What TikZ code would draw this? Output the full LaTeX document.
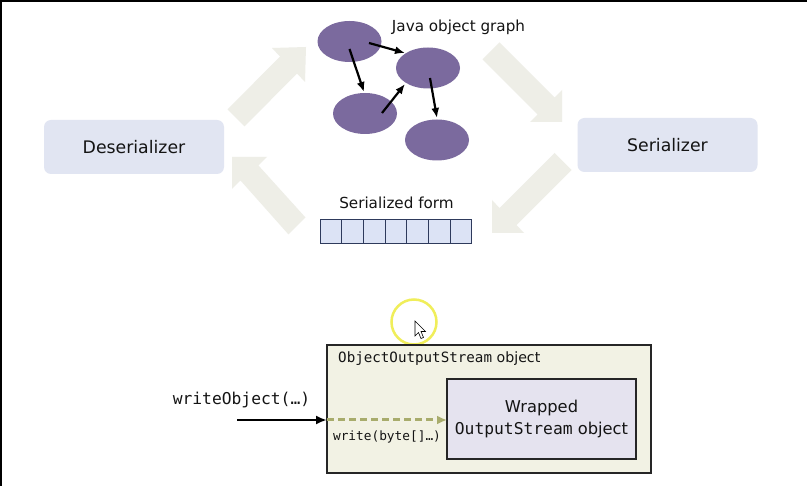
\documentclass[tikz,border=0pt]{standalone}
\usepackage{fontspec}
\setmainfont{DejaVu Sans}
\setsansfont{DejaVu Sans}
\setmonofont{DejaVu Sans Mono}
\usetikzlibrary{arrows.meta,calc,shapes.geometric}
\definecolor{boxfill}{RGB}{225,229,242}
\definecolor{purp}{RGB}{123,106,158}
\definecolor{bigarrow}{RGB}{238,238,231}
\definecolor{cellfill}{RGB}{220,227,245}
\definecolor{celldraw}{RGB}{46,58,92}
\definecolor{oosfill}{RGB}{242,242,228}
\definecolor{wrapfill}{RGB}{229,227,239}
\definecolor{olivegreen}{RGB}{168,172,108}
\definecolor{hilite}{RGB}{240,238,90}
\definecolor{ink}{RGB}{20,20,20}
\tikzset{
  rolebox/.style={fill=boxfill, rounded corners=7pt, minimum width=180pt, minimum height=54pt,
    text=ink, font=\fontsize{17.3}{20}\selectfont, inner sep=0pt, outer sep=0pt},
  objnode/.style={ellipse, fill=purp, minimum width=64pt, minimum height=41pt, inner sep=0pt},
  objarrow/.style={line width=2.2pt, -{Latex[length=10pt,width=8pt]}},
  bigarr/.style={fill=bigarrow, draw=none},
  cellbox/.style={draw=celldraw, fill=cellfill, line width=1pt, minimum width=21.7pt,
    minimum height=24pt, inner sep=0pt, outer sep=0pt},
  oosbox/.style={draw=black!85, fill=oosfill, line width=1.5pt, inner sep=0pt, outer sep=0pt},
  wrapbox/.style={draw=black!85, fill=wrapfill, line width=1.5pt, inner sep=0pt, outer sep=0pt,
    align=center, text=ink, font=\fontsize{16.3}{22}\selectfont},
  plainlabel/.style={text=ink, inner sep=0pt},
}
\begin{document}
\begin{tikzpicture}[x=1pt,y=-1pt]
\useasboundingbox (0,0) rectangle (807,486);
\fill[white] (0,0) rectangle (807,486);
% screenshot frame edges
\draw[line width=2pt, black] (1,486) -- (1,1) -- (807,1);

% big faded cycle arrows
\path[bigarr] (272,48) -- (306,47) -- (305,82) -- (297,73.5) -- (244.5,126.5) -- (227.5,109.5) -- (280,56.5) -- cycle;
\path[bigarr] (562,90) -- (562,122) -- (530,122) -- (537.5,114.5) -- (482.5,59.5) -- (499.5,42.5) -- (554.5,97.5) -- cycle;
\path[bigarr] (492,200) -- (492,233) -- (524,233) -- (516.5,225) -- (571.5,170) -- (554.5,153) -- (499.5,208) -- cycle;
\path[bigarr] (267,157) -- (232,157) -- (232,189) -- (240.5,180.5) -- (288.5,234.5) -- (305.5,217.5) -- (258.5,165.5) -- cycle;

% role boxes
\node[rolebox] (deser) at (134,147) {Deserializer};
\node[rolebox] (ser) at (667.5,145) {Serializer};

% object graph
\node[objnode] (o1) at (349.5,41.5) {};
\node[objnode] (o2) at (428,68) {};
\node[objnode] (o3) at (365,113.5) {};
\node[objnode] (o4) at (437,140) {};
\draw[objarrow] ([shift={(19.5,1.5)}]o1.center) -- ([shift={(-23,-15)}]o2.center);
\draw[objarrow] ([shift={(0,7.5)}]o1.center) -- ([shift={(-1,-21.5)}]o3.center);
\draw[objarrow] ([shift={(17,-0.5)}]o3.center) -- ([shift={(-23,16)}]o2.center);
\draw[objarrow] ([shift={(2,10)}]o2.center) -- ([shift={(0,-22)}]o4.center);
\node[plainlabel, font=\fontsize{15.2}{18}\selectfont] (jog) at (458.5,27) {Java object graph};

% serialized form
\node[plainlabel, font=\fontsize{15.2}{18}\selectfont] (sfl) at (396.5,203) {Serialized form};
\foreach \i in {0,...,6} {
  \node[cellbox] (c\i) at ({330.85+\i*21.7},232) {};
}

% highlight circle and cursor
\node[circle, draw=hilite, line width=2.5pt, minimum size=45pt, inner sep=0pt] (hl) at (414,322) {};
\draw[fill=white, draw=black, line width=0.6pt, line join=miter]
  (415,321) -- (415,336) -- (418.5,332.5) -- (421,338.5) -- (423.5,337.5) -- (421,331.5) -- (425.5,331.5) -- cycle;

% ObjectOutputStream
\node[oosbox, minimum width=324pt, minimum height=128pt] (oos) at (489,409) {};
\node[plainlabel, anchor=west, font=\fontsize{14.2}{17}\selectfont] (oosl) at (338,359)
  {\texttt{ObjectOutputStream} object};
\node[wrapbox, minimum width=189pt, minimum height=80pt] (wrap) at (541.5,419)
  {Wrapped\\\texttt{OutputStream} object};

\coordinate (wstart) at (237,420);
\draw[line width=2.5pt, -{Latex[length=11pt,width=9pt]}] (wstart) -- (wstart -| oos.west);
\draw[line width=3pt, olivegreen, dash pattern=on 7pt off 4pt, -{Latex[length=10pt,width=9pt]}]
  (wstart -| oos.west) -- (wstart -| wrap.west);
\node[plainlabel, font=\fontsize{16.3}{19}\selectfont] (wol) at (241.5,400) {\texttt{writeObject(…)}};
\node[plainlabel, font=\fontsize{12.8}{15}\selectfont] (wbl) at (387,436.5) {\texttt{write(byte[]…)}};
\end{tikzpicture}
\end{document}
